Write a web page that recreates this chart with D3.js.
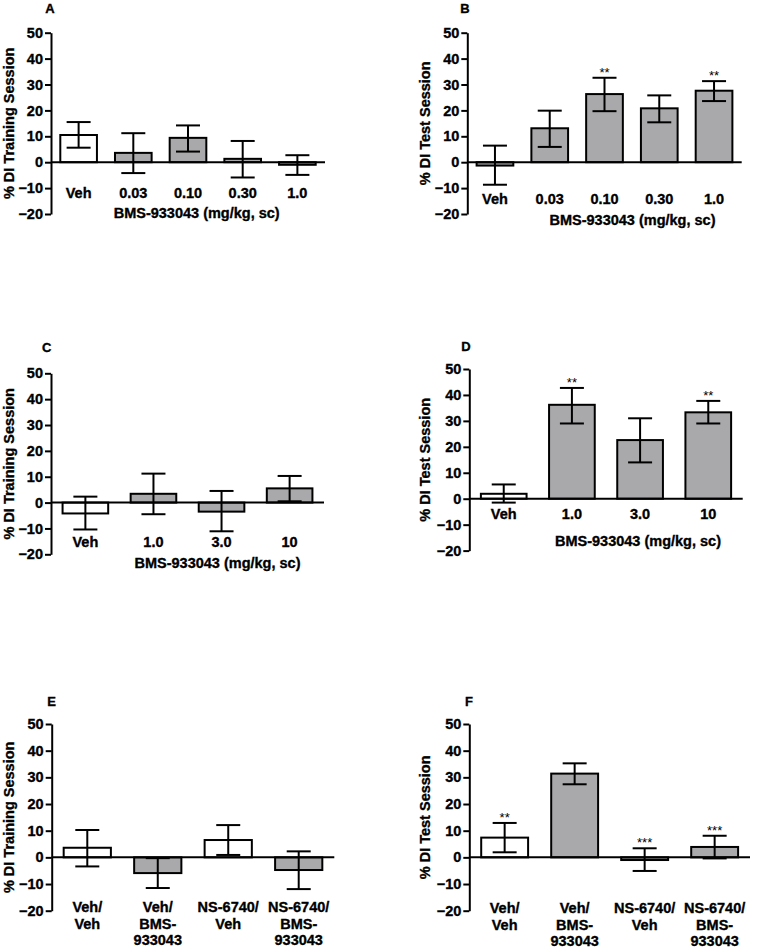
<!DOCTYPE html>
<html><head><meta charset="utf-8">
<script src="https://cdn.jsdelivr.net/npm/d3@7"></script>
<style>body{margin:0;background:#fff}svg{display:block}text{font-family:"Liberation Sans",Arial,sans-serif}
text.bold{stroke:#000;stroke-width:0.35px}</style>
</head><body>
<script>
// ---------- DATA ----------
const ticksY = [-20, -10, 0, 10, 20, 30, 40, 50];
const doseAxisTitle = "BMS-933043 (mg/kg, sc)";

const catsA = ["Veh", "0.03", "0.10", "0.30", "1.0"];
const meanA = [10.5, 3.6, 9.4, 1.3, -1.0];
const upA   = [15.5, 11.2, 14.2, 8.2, 2.7];
const lowA  = [5.6, -4.2, 4.1, -5.9, -4.9];
const grpA  = ["veh", "drug", "drug", "drug", "drug"];
const starA = ["", "", "", "", ""];

const catsB = ["Veh", "0.03", "0.10", "0.30", "1.0"];
const meanB = [-1.3, 13.1, 26.3, 20.8, 27.6];
const upB   = [6.4, 19.9, 32.6, 25.8, 31.3];
const lowB  = [-8.7, 5.9, 19.7, 15.4, 23.6];
const grpB  = ["drug", "drug", "drug", "drug", "drug"];
const starB = ["", "", "**", "", "**"];

const catsC = ["Veh", "1.0", "3.0", "10"];
const meanC = [-4.2, 3.4, -3.5, 5.5];
const upC   = [2.3, 11.2, 4.5, 10.3];
const lowC  = [-10.4, -4.5, -11.1, 0.5];
const grpC  = ["veh", "drug", "drug", "drug"];
const starC = ["", "", "", ""];

const catsD = ["Veh", "1.0", "3.0", "10"];
const meanD = [1.9, 36.2, 22.6, 33.3];
const upD   = [5.5, 42.7, 31.0, 37.7];
const lowD  = [-1.5, 29.0, 14.0, 29.0];
const grpD  = ["veh", "drug", "drug", "drug"];
const starD = ["", "**", "", "**"];

const catsE = [["Veh/", "Veh"], ["Veh/", "BMS-", "933043"], ["NS-6740/", "Veh"], ["NS-6740/", "BMS-", "933043"]];
const meanE = [3.6, -5.9, 6.5, -4.75];
const upE   = [10.25, -0.3, 12.1, 2.25];
const lowE  = [-3.4, -11.5, 0.9, -11.9];
const grpE  = ["veh", "drug", "veh", "drug"];
const starE = ["", "", "", ""];

const catsF = [["Veh/", "Veh"], ["Veh/", "BMS-", "933043"], ["NS-6740/", "Veh"], ["NS-6740/", "BMS-", "933043"]];
const meanF = [7.4, 31.4, -1.0, 3.9];
const upF   = [12.9, 35.25, 3.4, 8.1];
const lowF  = [1.9, 27.4, -5.1, -0.4];
const grpF  = ["veh", "drug", "drug", "drug"];
const starF = ["**", "", "***", "***"];

// ---------- STYLE / LAYOUT ----------
const fillOf = {veh: "#ffffff", drug: "#a9a9ac"};
const panels = [
  {letter:"A", ylab:"% DI Training Session", cats:catsA, mean:meanA, up:upA, low:lowA, grp:grpA, star:starA,
   x0:51, x1:325, yTop:32.7, yBot:214, letterX:50, letterY:8, ylabX:9, catY:192.7, title:true, titleX:196.7, titleY:213},
  {letter:"B", ylab:"% DI Test Session", cats:catsB, mean:meanB, up:upB, low:lowB, grp:grpB, star:starB,
   x0:467.3, x1:741.7, yTop:32.7, yBot:214, letterX:465, letterY:8.3, ylabX:425, catY:198.3, title:true, titleX:632.5, titleY:220},
  {letter:"C", ylab:"% DI Training Session", cats:catsC, mean:meanC, up:upC, low:lowC, grp:grpC, star:starC,
   x0:51, x1:324, yTop:373.3, yBot:554.3, letterX:46.7, letterY:347.7, ylabX:8.5, catY:541.7, title:true, titleX:217.5, titleY:563},
  {letter:"D", ylab:"% DI Test Session", cats:catsD, mean:meanD, up:upD, low:lowD, grp:grpD, star:starD,
   x0:469.3, x1:742.7, yTop:369, yBot:550.6, letterX:466, letterY:346.7, ylabX:425, catY:513.3, title:true, titleX:638, titleY:541},
  {letter:"E", ylab:"% DI Training Session", cats:catsE, mean:meanE, up:upE, low:lowE, grp:grpE, star:starE,
   x0:51.7, x1:334.3, yTop:724, yBot:910.7, letterX:51.7, letterY:701, ylabX:9, catY:906.5, title:false},
  {letter:"F", ylab:"% DI Test Session", cats:catsF, mean:meanF, up:upF, low:lowF, grp:grpF, star:starF,
   x0:469.3, x1:750, yTop:724, yBot:910.7, letterX:469, letterY:701, ylabX:425, catY:907.5, title:false}
];

const svg = d3.select("body").append("svg").attr("width", 760).attr("height", 948);
svg.append("rect").attr("width", 760).attr("height", 948).attr("fill", "#fff");

panels.forEach(p => {
  const g = svg.append("g");
  const idx = d3.range(p.mean.length);
  const x = d3.scaleBand().domain(idx).range([p.x0, p.x1]).paddingInner(0.33).paddingOuter(0.17);
  const y = d3.scaleLinear().domain([-20, 50]).range([p.yBot, p.yTop]);

  // bars
  g.selectAll("rect.bar").data(idx).join("rect")
    .attr("x", i => x(i)).attr("width", x.bandwidth())
    .attr("y", i => y(Math.max(0, p.mean[i])))
    .attr("height", i => Math.abs(y(p.mean[i]) - y(0)))
    .attr("fill", i => fillOf[p.grp[i]]).attr("stroke", "#000").attr("stroke-width", 2);

  // error bars
  const cap = 12;
  idx.forEach(i => {
    const cx = x(i) + x.bandwidth() / 2;
    g.append("line").attr("x1", cx).attr("x2", cx).attr("y1", y(p.up[i])).attr("y2", y(p.low[i]))
      .attr("stroke", "#000").attr("stroke-width", 2);
    [p.up[i], p.low[i]].forEach(v => {
      g.append("line").attr("x1", cx - cap).attr("x2", cx + cap).attr("y1", y(v)).attr("y2", y(v))
        .attr("stroke", "#000").attr("stroke-width", 2);
    });
    if (p.star[i]) {
      g.append("text").attr("x", cx).attr("y", y(p.up[i]) - 1)
        .attr("text-anchor", "middle").attr("font-size", 13).attr("font-weight", "normal")
        .text(p.star[i]);
    }
  });

  // zero line
  g.append("line").attr("x1", p.x0).attr("x2", p.x1).attr("y1", y(0)).attr("y2", y(0))
    .attr("stroke", "#000").attr("stroke-width", 2);

  // y axis
  const ax = g.append("g").attr("transform", `translate(${p.x0},0)`)
    .call(d3.axisLeft(y).tickValues(ticksY).tickSize(6).tickSizeOuter(0).tickPadding(2).tickFormat(d3.format("d")));
  ax.select(".domain").attr("stroke-width", 2);
  ax.selectAll(".tick line").attr("stroke-width", 2);
  ax.selectAll(".tick text").attr("class", "bold").attr("font-size", 14.5).attr("font-weight", "bold").attr("fill", "#000")
    .attr("font-family", '"Liberation Sans",Arial,sans-serif');

  // y label
  const cy = (p.yTop + p.yBot) / 2;
  g.append("text").attr("class", "bold").attr("transform", `translate(${p.ylabX},${cy}) rotate(-90)`)
    .attr("text-anchor", "middle").attr("dominant-baseline", "central")
    .attr("font-size", 14.5).attr("font-weight", "bold").text(p.ylab);

  // panel letter
  g.append("text").attr("class", "bold").attr("x", p.letterX).attr("y", p.letterY + 4.7).attr("text-anchor", "middle")
    .attr("font-size", 13).attr("font-weight", "bold").text(p.letter);

  // category labels
  idx.forEach(i => {
    const cx = x(i) + x.bandwidth() / 2;
    const lines = Array.isArray(p.cats[i]) ? p.cats[i] : [p.cats[i]];
    const t = g.append("text").attr("class", "bold").attr("text-anchor", "middle").attr("font-size", 14.5).attr("font-weight", "bold");
    lines.forEach((ln, k) => {
      t.append("tspan").attr("x", cx).attr("y", p.catY + 5.2 + k * 16.8).text(ln);
    });
  });

  if (p.title) {
    g.append("text").attr("class", "bold").attr("x", p.titleX).attr("y", p.titleY + 5.2).attr("text-anchor", "middle")
      .attr("font-size", 14.5).attr("font-weight", "bold").text(doseAxisTitle);
  }
});
</script>
</body></html>
